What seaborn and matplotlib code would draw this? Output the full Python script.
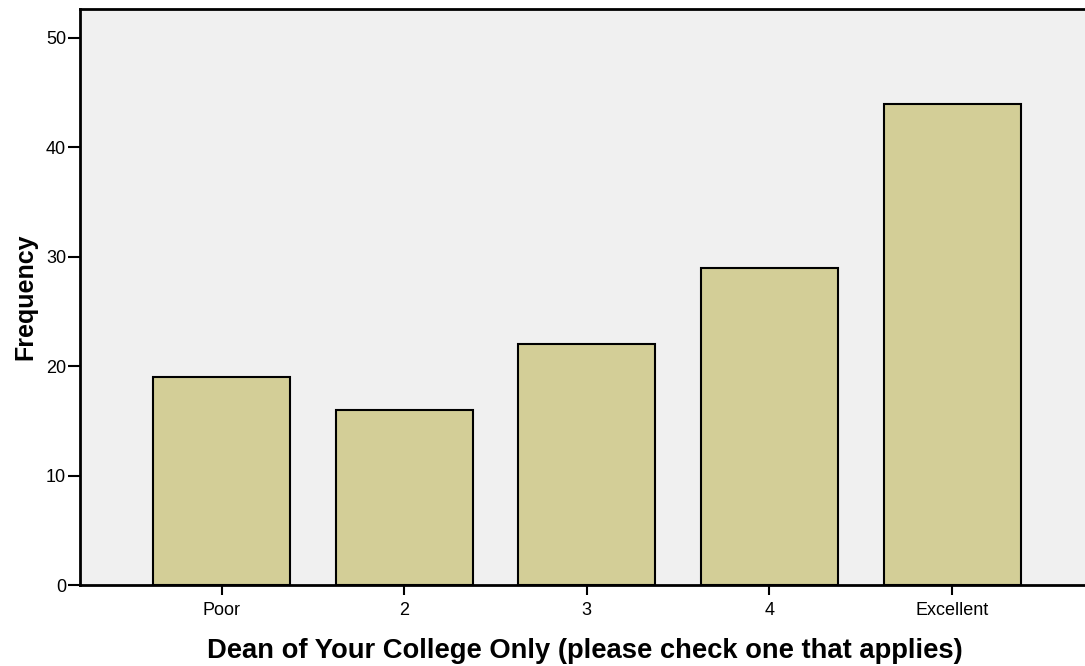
import pandas as pd
import matplotlib.pyplot as plt
import seaborn as sns

# Rating categories and response counts
categories = ['Poor', '2', '3', '4', 'Excellent']
counts = [19, 16, 22, 29, 44]

df = pd.DataFrame({'Rating': categories, 'Frequency': counts})

sns.set_theme(style="ticks")
plt.rcParams['font.family'] = ['Liberation Sans', 'DejaVu Sans']
plt.rcParams['text.color'] = 'black'
plt.rcParams['axes.labelcolor'] = 'black'

fig = plt.figure(figsize=(10.85, 6.66), dpi=100)
ax = fig.add_axes([0.0737, 0.1216, 0.93, 0.865])
ax.set_facecolor('#f0f0f0')

sns.barplot(
    data=df,
    x='Rating',
    y='Frequency',
    color='#d3ce97',
    saturation=1,
    width=0.75,
    edgecolor='black',
    linewidth=1.5,
    ax=ax
)

ax.set_xlim(-0.775, 4.75)
ax.set_ylim(0, 52.65)
ax.set_yticks([0, 10, 20, 30, 40, 50])

for side in ['left', 'bottom', 'top']:
    ax.spines[side].set_linewidth(2)
    ax.spines[side].set_color('black')
ax.spines['right'].set_visible(False)

ax.tick_params(axis='y', length=9, width=1.5, labelsize=13, pad=1, colors='black')
ax.tick_params(axis='x', length=7, width=1.5, labelsize=13, pad=5, colors='black')

ax.set_xlabel('Dean of Your College Only (please check one that applies)',
              fontsize=19.7, fontweight='bold', labelpad=14)
ax.set_ylabel('Frequency', fontsize=18, fontweight='bold', labelpad=6)

fig.savefig('out.png', dpi=100)
